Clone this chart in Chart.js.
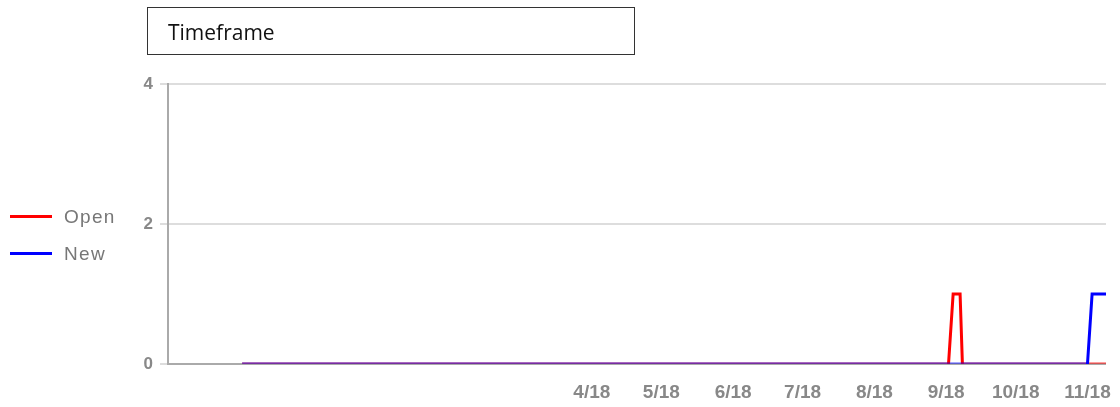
<!DOCTYPE html>
<html>
<head>
<meta charset="utf-8">
<title>Timeframe</title>
<script src="https://cdn.jsdelivr.net/npm/chart.js@4/dist/chart.umd.min.js"></script>
<style>
  html, body { margin: 0; padding: 0; background: #fff; }
  #wrap { position: relative; width: 1120px; height: 407px; overflow: hidden; }
  #chart { position: absolute; left: 0; top: 0; }
  .titleBox {
    position: absolute; left: 147px; top: 7px; width: 466px; height: 45px;
    border: 1px solid #333; display: flex; align-items: center;
    padding-left: 20px; padding-top: 1px; box-sizing: content-box;
    font-family: "Open Sans", sans-serif; font-size: 21px; color: #111;
  }
  .legend { position: absolute; left: 10px; font-family: "Liberation Sans", Arial, sans-serif;
    font-size: 19px; color: #777; letter-spacing: 1.3px; }
  .legend span.sw { position: absolute; left: 0; width: 42px; height: 3px; }
  .legend span.tx { position: absolute; left: 54px; white-space: nowrap; }
</style>
</head>
<body>
<div id="wrap">
  <canvas id="chart" width="1120" height="407"></canvas>
  <div class="titleBox">Timeframe</div>
  <div id="legend"></div>
</div>
<script>
// data (dates where the value changes)
const seriesNames = ['Open', 'New'];
const seriesColors = ['#ff0000', '#0000ff'];
const flatColors = ['rgba(255,0,0,0.5)', 'rgba(0,0,255,0.45)'];
const openDates = ['2017-11-01', '2018-09-02', '2018-09-04', '2018-09-07', '2018-09-08', '2018-11-09'];
const openValues = [0, 0, 1, 1, 0, 0];
const newDates = ['2017-11-01', '2018-11-01', '2018-11-03', '2018-11-09'];
const newValues = [0, 0, 1, 1];
const tickDates = ['2018-04-01', '2018-05-01', '2018-06-01', '2018-07-01', '2018-08-01', '2018-09-01', '2018-10-01', '2018-11-01'];
const tickLabels = ['4/18', '5/18', '6/18', '7/18', '8/18', '9/18', '10/18', '11/18'];
const yTicks = [0, 2, 4];
const xStart = '2017-09-30';
const xEnd = '2018-11-09';

function day(s) {
    return Date.parse(s + 'T00:00:00Z') / 86400000;
}

function points(dates, values) {
    return dates.map((d, i) => ({ x: day(d), y: values[i] }));
}

function dataset(i, dates, values, order) {
    return {
        label: seriesNames[i],
        data: points(dates, values),
        borderColor: seriesColors[i],
        borderWidth: 3,
        pointRadius: 0,
        tension: 0,
        order: order,
        // both ends on zero: drawn lighter, so the two lines blend
        segment: {
            borderColor: c => (c.p0.parsed.y === 0 && c.p1.parsed.y === 0) ? flatColors[i] : seriesColors[i],
            borderWidth: c => (c.p0.parsed.y === 0 && c.p1.parsed.y === 0) ? 3.5 : 3
        }
    };
}

// legend on the left
const legend = document.getElementById('legend');
[216, 253].forEach((y, i) => {
    const item = document.createElement('div');
    item.className = 'legend';
    item.style.top = y + 'px';
    item.innerHTML = '<span class="sw" style="background:' + seriesColors[i] + ';top:-1px"></span>' +
        '<span class="tx" style="top:-10px">' + seriesNames[i] + '</span>';
    legend.appendChild(item);
});

const ctx = document.getElementById('chart').getContext('2d');
new Chart(ctx, {
    type: 'line',
    data: {
        datasets: [
            dataset(0, openDates, openValues, 2),
            dataset(1, newDates, newValues, 1)
        ]
    },
    options: {
        responsive: false,
        animation: false,
        layout: { padding: { left: 0, top: 84, right: 14, bottom: 0 } },
        plugins: { legend: { display: false }, tooltip: { enabled: false } },
        scales: {
            x: {
                type: 'linear',
                min: day(xStart),
                max: day(xEnd),
                afterBuildTicks: scale => { scale.ticks = tickDates.map(d => ({ value: day(d) })); },
                afterFit: scale => { scale.height = 43; scale.paddingLeft = 0; scale.paddingRight = 0; },
                grid: { display: false, drawTicks: false },
                border: { display: false },
                ticks: {
                    autoSkip: false, maxRotation: 0, padding: 17,
                    color: '#888',
                    font: { family: 'Liberation Sans', size: 19, weight: 'bold' },
                    callback: (v, i) => tickLabels[i]
                }
            },
            y: {
                min: 0, max: 4,
                afterBuildTicks: scale => { scale.ticks = yTicks.map(v => ({ value: v })); },
                afterFit: scale => { scale.width = 168; scale.paddingTop = 0; scale.paddingBottom = 0; },
                grid: {
                    color: c => c.tick && c.tick.value === 0 ? '#aaa' : '#ddd',
                    lineWidth: 2,
                    tickLength: 8,
                    tickColor: '#ddd'
                },
                border: { color: '#aaa', width: 2 },
                ticks: {
                    padding: 7, color: '#888',
                    font: { family: 'Liberation Sans', size: 17, weight: 'bold' }
                }
            }
        }
    }
});
</script>
</body>
</html>
